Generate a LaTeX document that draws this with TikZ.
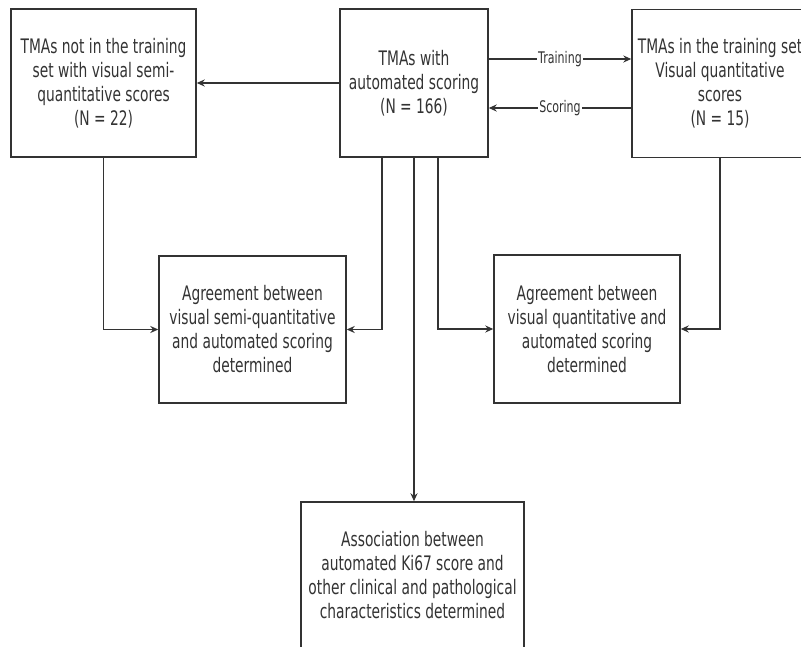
\documentclass[tikz,border=0pt]{standalone}
\usepackage{fontspec}
\setmainfont{DejaVu Sans}[FakeStretch=0.69]
\usetikzlibrary{arrows.meta,calc}
\definecolor{ink}{HTML}{333333}
\begin{document}
\begin{tikzpicture}[x=1pt,y=-1pt,
  box/.style={draw=ink,line width=1.4pt,rectangle,align=center,text=ink,
    font=\fontsize{20}{24}\selectfont,inner sep=0pt},
  arr/.style={draw=ink,line width=1.4pt,-{Stealth[length=8pt,width=7pt]}},
  lbl/.style={fill=white,text=ink,font=\fontsize{16}{18}\selectfont,inner sep=1pt}]
\useasboundingbox (0,0) rectangle (801,647);
\node[box,minimum width=185pt,minimum height=148pt] (A) at (103.5,83)
  {TMAs not in the training\\set with visual semi-\\quantitative scores\\(N = 22)};
\node[box,minimum width=148pt,minimum height=148pt] (B) at (414,83)
  {TMAs with\\automated scoring\\(N = 166)};
\node[box,minimum width=176pt,minimum height=148pt] (C) at (720,83.5)
  {TMAs in the training set\\Visual quantitative\\scores\\(N = 15)};
\node[box,minimum width=187pt,minimum height=147pt] (D) at (252.5,329.5)
  {Agreement between\\visual semi-quantitative\\and automated scoring\\determined};
\node[box,minimum width=186pt,minimum height=148pt] (E) at (587,329)
  {Agreement between\\visual quantitative and\\automated scoring\\determined};
\node[box,minimum width=223pt,minimum height=146pt] (F) at (412.5,575)
  {Association between\\automated Ki67 score and\\other clinical and pathological\\characteristics determined};

\draw[arr] (B.west) -- (A.east);
\draw[arr] ([yshift=24pt]B.east) -- node[lbl]{Training} ([yshift=24.5pt]C.west);
\draw[arr] ([yshift=-24.5pt]C.west) -- node[lbl]{Scoring} ([yshift=-25pt]B.east);
\draw[arr] (A.south) |- (D.west);
\draw[arr] ([xshift=-32pt]B.south) |- (D.east);
\draw[arr] ([xshift=24pt]B.south) |- (E.west);
\draw[arr] (C.south) |- (E.east);
\draw[arr] (B.south) -- (B.south |- F.north);
\end{tikzpicture}
\end{document}
